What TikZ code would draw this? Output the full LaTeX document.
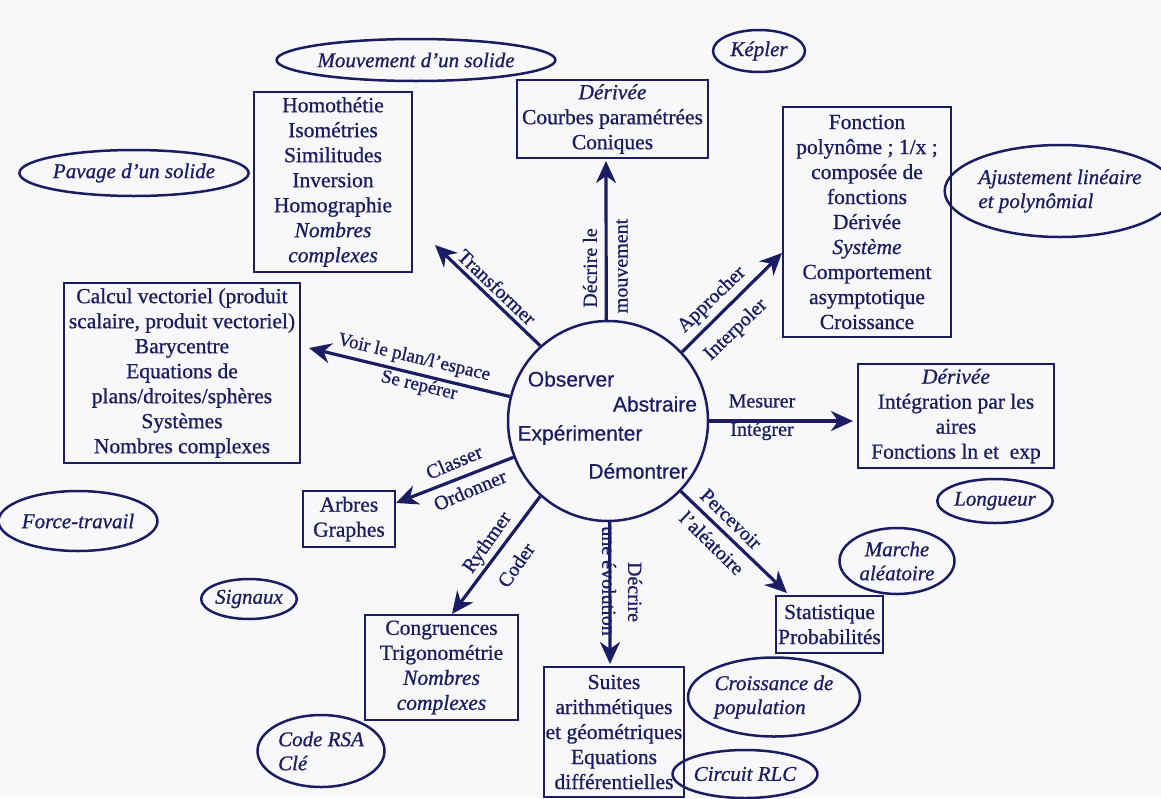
\documentclass[tikz,border=0pt]{standalone}
\usepackage{fontspec}
\setmainfont{Liberation Serif}[UprightFeatures={FakeBold=0.8},ItalicFeatures={FakeBold=0.8}]
\newfontfamily\sansf{Liberation Sans}[UprightFeatures={FakeBold=0.6}]
\usetikzlibrary{shapes.geometric,arrows.meta}
\definecolor{ink}{RGB}{28,28,98}
\definecolor{paper}{RGB}{248,248,250}
\begin{document}
\begin{tikzpicture}[x=1pt,y=-1pt,
  boxn/.style={draw=ink,line width=2.5pt,text=ink,align=center,inner sep=0pt,font=\fontsize{21.5}{25}\selectfont},
  ell/.style={draw=ink,line width=2.5pt,ellipse,text=ink,inner sep=0pt,align=center,font=\fontsize{21}{24}\selectfont\itshape},
  arr/.style={draw=ink,line width=3.2pt,-{Stealth[length=22pt,width=20pt,inset=7pt]}},
  lbl/.style={text=ink,inner sep=0pt,font=\fontsize{20}{22}\selectfont},
  cw/.style={text=ink,inner sep=0pt,font=\sansf\fontsize{21}{24}\selectfont}]
\fill[paper] (0,0) rectangle (1161,798);
\useasboundingbox (0,0) rectangle (1161,798);

% central circle
\node[draw=ink,line width=2.5pt,circle,minimum size=200pt,inner sep=0pt] (c) at (608,421) {};
\node[cw] (obs) at (571,379) {Observer};
\node[cw] (abs) at (655,404) {Abstraire};
\node[cw] (exp) at (580,435) {Expérimenter};
\node[cw] (dem) at (638,471) {Démontrer};

% boxes
\node[boxn,minimum width=158pt,minimum height=180pt] (homo) at (333,182)
  {Homothétie\\Isométries\\Similitudes\\Inversion\\Homographie\\\textit{Nombres}\\\textit{complexes}};
\node[boxn,minimum width=191pt,minimum height=78pt] (courb) at (612.5,119)
  {\textit{Dérivée}\\Courbes paramétrées\\Coniques};
\node[boxn,minimum width=168pt,minimum height=230pt] (fonc) at (867,222)
  {Fonction\\polynôme ; 1/x ;\\composée de\\fonctions\\Dérivée\\\textit{Système}\\Comportement\\asymptotique\\Croissance};
\node[boxn,minimum width=236pt,minimum height=180pt] (calc) at (182,373)
  {Calcul vectoriel (produit\\scalaire, produit vectoriel)\\Barycentre\\Equations de\\plans/droites/sphères\\Systèmes\\Nombres complexes};
\node[boxn,minimum width=196pt,minimum height=104pt] (integ) at (956,416)
  {\textit{Dérivée}\\Intégration par les\\aires\\Fonctions ln et\ \ exp};
\node[boxn,minimum width=92pt,minimum height=56pt] (arbr) at (349,519)
  {Arbres\\Graphes};
\node[boxn,minimum width=153pt,minimum height=105pt] (congr) at (441.5,667.5)
  {Congruences\\Trigonométrie\\\textit{Nombres}\\\textit{complexes}};
\node[boxn,minimum width=140pt,minimum height=130pt] (suit) at (614,732)
  {Suites\\arithmétiques\\et géométriques\\Equations\\différentielles};
\node[boxn,minimum width=107pt,minimum height=57pt] (stat) at (829.5,624.5)
  {Statistique\\Probabilités};

% ellipses
\node[ell,minimum width=234pt,minimum height=42pt] (mouv) at (416,60) {Mouvement d'un solide};
\node[ell,minimum width=92pt,minimum height=42pt] (kep) at (759,51) {Képler};
\node[ell,minimum width=192pt,minimum height=46pt] (pav) at (134,173) {Pavage d'un solide};
\node[ell,minimum width=210pt,minimum height=92pt,align=left] (ajus) at (1060,191) {Ajustement linéaire\\et polynômial};
\node[ell,minimum width=136pt,minimum height=60pt] (force) at (78,521) {Force-travail};
\node[ell,minimum width=86pt,minimum height=40pt] (sign) at (249,599) {Signaux};
\node[ell,minimum width=127pt,minimum height=72pt,align=left] (rsa) at (321,751) {Code RSA\\Clé};
\node[ell,minimum width=105pt,minimum height=44pt] (long) at (995,501) {Longueur};
\node[ell,minimum width=115pt,minimum height=66pt] (marche) at (897,561) {Marche\\aléatoire};
\node[ell,minimum width=172pt,minimum height=79pt,align=left] (croiss) at (774,697) {Croissance de\\population};
\node[ell,minimum width=120pt,minimum height=48pt] (rlc) at (745,774) {Circuit RLC};

% arrow tips
\coordinate (tT) at (435,245);
\coordinate (tD) at (606,161);
\coordinate (tA) at (782,253);
\coordinate (tV) at (309,348);
\coordinate (tM) at (853,421);
\coordinate (tC) at (396,503);
\coordinate (tR) at (452,614);
\coordinate (tE) at (610,664);
\coordinate (tP) at (787,593);

% label under the arrow (drawn first)
\node[lbl,rotate=-90] (evol) at (609,581) {une évolution};

% arrows
\draw[arr] (c.132) -- (tT);
\draw[arr] (c.91) -- (tD);
\draw[arr] (c.43) -- (tA);
\draw[arr] (c.166) -- (tV);
\draw[arr] (c.0) -- (tM);
\draw[arr] (c.201) -- (tC);
\draw[arr] (c.228) -- (tR);
\draw[arr] (c.271) -- (tE);
\draw[arr] (c.316) -- (tP);

% arrow labels
\node[lbl,rotate=-43.6] (lT) at (497,287) {Transformer};
\node[lbl,rotate=90] (lD1) at (590,268) {Décrire le};
\node[lbl,rotate=90] (lD2) at (622,266) {mouvement};
\node[lbl,rotate=44] (lA1) at (712,300) {Approcher};
\node[lbl,rotate=44] (lA2) at (736,330) {Interpoler};
\node[lbl,rotate=-13.3,font=\fontsize{19}{22}\selectfont] (lV1) at (414,358) {Voir le plan/l'espace};
\node[lbl,rotate=-13.3,font=\fontsize{19}{22}\selectfont] (lV2) at (419,386) {Se repérer};
\node[lbl] (lM1) at (762,401) {Mesurer};
\node[lbl] (lM2) at (762,431) {Intégrer};
\node[lbl,rotate=23] (lC1) at (454,462) {Classer};
\node[lbl,rotate=23] (lC2) at (470,490) {Ordonner};
\node[lbl,rotate=55] (lR1) at (488,543) {Rythmer};
\node[lbl,rotate=55] (lR2) at (516,565) {Coder};
\node[lbl,rotate=-90] (lE) at (635,592) {Décrire};
\node[lbl,rotate=-44.4] (lP1) at (731,519) {Percevoir};
\node[lbl,rotate=-44.4] (lP2) at (712,543) {l'aléatoire};
\end{tikzpicture}
\end{document}
